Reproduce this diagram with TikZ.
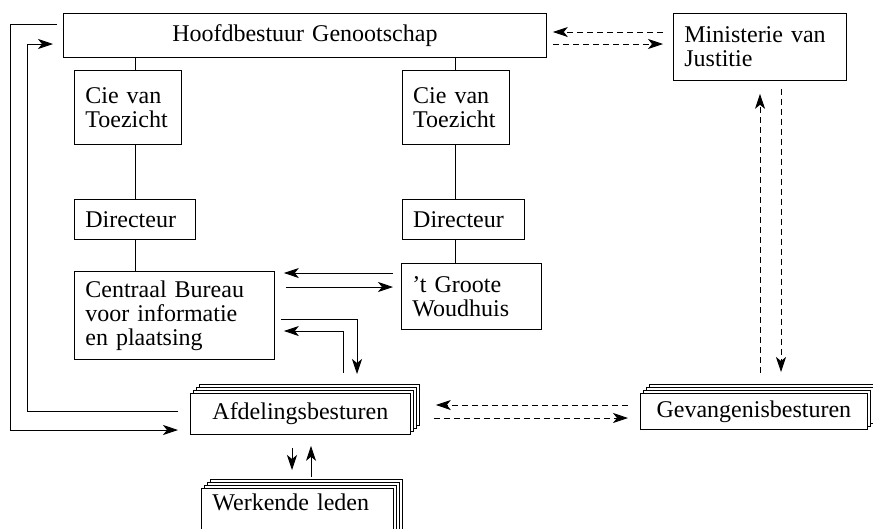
\documentclass[tikz,border=0pt]{standalone}
\usepackage{fontspec}
\setmainfont{Liberation Serif}
\usepackage{tikz}
\usetikzlibrary{positioning}
\usetikzlibrary{calc}
\usetikzlibrary{arrows.meta}
\usetikzlibrary{shadows}

\begin{document}
\begin{tikzpicture}[x=1pt, y=-1pt, line width=0.8pt, font=\fontsize{24}{24}\selectfont,
  box/.style={draw, fill=white, align=left, inner xsep=11pt, inner ysep=0pt, anchor=north west},
  stack/.style={copy shadow={shadow xshift=9pt,shadow yshift=9pt},
    copy shadow={shadow xshift=6pt,shadow yshift=6pt},
    copy shadow={shadow xshift=3pt,shadow yshift=3pt}},
  arr/.style={-{Stealth[length=15pt,width=10pt,inset=4pt]}},
  indirect/.style={arr, dash pattern=on 6pt off 4pt}]
\useasboundingbox (0,0) rectangle (873,528);

\node[box, align=center, text width=461pt, minimum height=44pt] (hoofd) at (63,13) {Hoofdbestuur Genootschap};
\node[box, text width=151pt, minimum height=67pt] (justitie) at (673,13) {Ministerie van\\Justitie};
\node[box, text width=85pt, minimum height=74pt] (toezichtL) at (74,70) {Cie van\\Toezicht};
\node[box, text width=85pt, minimum height=74pt, right=220pt of toezichtL.north east, anchor=north west] (toezichtR) {Cie van\\Toezicht};
\node[box, text width=99pt, minimum height=40pt, below=54pt of toezichtL.south west, anchor=north west] (directeurL) {Directeur};
\node[box, text width=100pt, minimum height=40pt, below=54pt of toezichtR.south west, anchor=north west] (directeurR) {Directeur};
\node[box, text width=178pt, minimum height=88pt] (bureau) at (74,271) {Centraal Bureau\\voor informatie\\en plaatsing};
\node[box, text width=118pt, minimum height=66pt] (woudhuis) at (401,263) {'t Groote\\Woudhuis};
\node[box, stack, align=center, text width=198pt, minimum height=41pt] (afdeling) at (190,393) {Afdelingsbesturen};
\node[box, stack, align=center, text width=205pt, minimum height=36pt] (gevangenis) at (640,393) {Gevangenisbesturen};
\node[box, stack, text width=170pt, inner ysep=5pt, text depth=40pt] (leden) at (201,488) {Werkende leden};

% lijnen
\draw (hoofd.south -| directeurL) -- (toezichtL.north -| directeurL);
\draw (toezichtL.south -| directeurL) -- (directeurL.north);
\draw (directeurL.south) -- (bureau.north -| directeurL);
\draw (hoofd.south -| toezichtR) -- (toezichtR.north);
\draw (toezichtR.south) -- (directeurR.north -| toezichtR);
\draw (directeurR.south -| toezichtR) -- (woudhuis.north -| toezichtR);

% pijlen
\draw[arr, shorten <=8pt, shorten >=9pt] (woudhuis.west |- 0,273) -- (bureau.east |- 0,273);
\draw[arr, shorten <=11pt, shorten >=8pt] (bureau.east |- 0,287) -- (woudhuis.west |- 0,287);
\draw[arr, shorten <=20pt, shorten >=9pt] (afdeling.north -| 343,0) |- (bureau.east |- 0,331);
\draw[arr, shorten <=6pt, shorten >=19pt] (bureau.east |- 0,319) -| (afdeling.north -| 357,0);
\draw[arr, shorten <=6pt, shorten >=12pt] (hoofd.west |- 0,24) -| (10,430) -- (afdeling.west |- 0,430);
\draw[arr, shorten <=12pt, shorten >=10pt] (afdeling.west |- 0,411) -| (27,44) -- (hoofd.west |- 0,44);
\draw[arr, shorten <=13pt, shorten >=18pt] (afdeling.south -| 292,0) -- (leden.north -| 292,0);
\draw[arr, shorten <=11pt, shorten >=11pt] (leden.north -| 311,0) -- (afdeling.south -| 311,0);

% gestippeld
\draw[indirect, shorten <=10pt, shorten >=6pt] (justitie.west |- 0,32) -- (hoofd.east |- 0,32);
\draw[indirect, shorten <=6pt, shorten >=10pt] (hoofd.east |- 0,44) -- (justitie.west |- 0,44);
\draw[indirect, shorten <=12pt, shorten >=25pt] (gevangenis.west |- 0,405) -- (afdeling.east |- 0,405);
\draw[indirect, shorten <=23pt, shorten >=12pt] (afdeling.east |- 0,418) -- (gevangenis.west |- 0,418);
\draw[indirect, shorten <=20pt, shorten >=13pt] (gevangenis.north -| 760,0) -- (justitie.south -| 760,0);
\draw[indirect, shorten <=8pt, shorten >=21pt] (justitie.south -| 781,0) -- (gevangenis.north -| 781,0);
\end{tikzpicture}
\end{document}
